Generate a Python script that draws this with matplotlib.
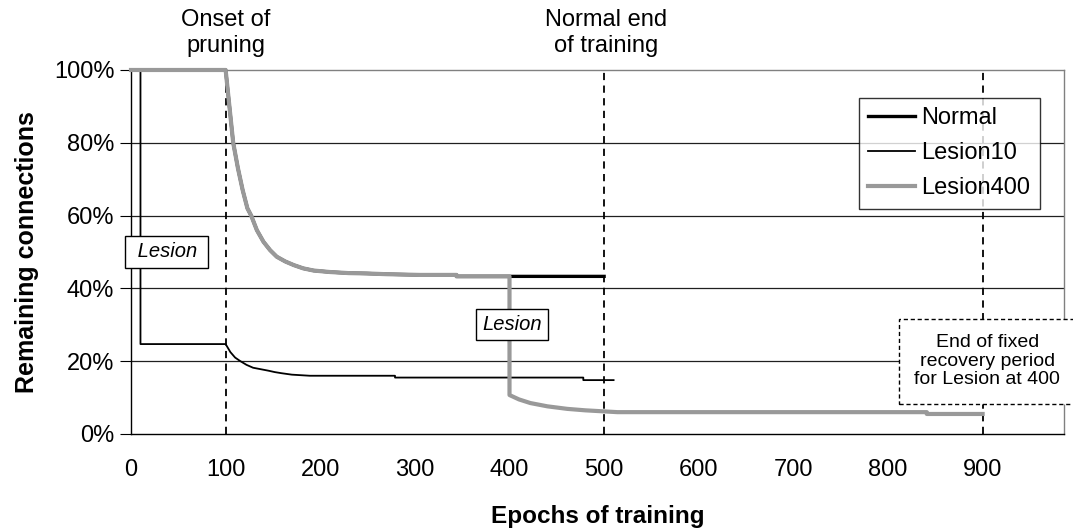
import matplotlib
matplotlib.use("Agg")
import matplotlib.pyplot as plt
from matplotlib.ticker import PercentFormatter, MultipleLocator

plt.rcParams['font.family'] = ['Liberation Sans', 'DejaVu Sans']

# Normal run: pruning starts at epoch 100, training ends at 500
normal_epochs = [0, 100, 104, 108, 113, 118, 123, 127, 133, 140, 147, 154,
                 163, 172, 182, 193, 210, 230, 249, 270, 305, 344, 344, 500]
normal_values = [100, 100, 90, 80, 73, 67, 62, 60, 56, 52.8, 50.5, 48.7,
                 47.4, 46.4, 45.5, 44.9, 44.5, 44.2, 44.1, 43.9, 43.7, 43.7, 43.3, 43.3]

# Lesion at epoch 10
lesion10_epochs = [0, 10, 10, 100, 105, 110, 115, 122, 129, 137, 145, 152,
                   159, 170, 189, 279, 279, 478, 478, 510]
lesion10_values = [100, 100, 24.7, 24.7, 22.5, 21.0, 20.1, 19.0, 18.2, 17.8, 17.4, 17.0,
                   16.7, 16.3, 16.0, 16.0, 15.5, 15.5, 14.8, 14.8]

# Lesion at epoch 400 (same as normal before the lesion)
lesion400_post_epochs = [400, 400, 410, 422, 440, 461, 480, 514, 841, 841, 900]
lesion400_post_values = [43.3, 10.7, 9.5, 8.5, 7.6, 6.9, 6.5, 6.0, 6.0, 5.5, 5.5]
pre = [i for i, e in enumerate(normal_epochs) if e < 400]
lesion400_epochs = [normal_epochs[i] for i in pre] + lesion400_post_epochs
lesion400_values = [normal_values[i] for i in pre] + lesion400_post_values

event_epochs = [100, 500, 900]
x_ticks = [0, 100, 200, 300, 400, 500, 600, 700, 800, 900]

fig = plt.figure(figsize=(10.73, 5.31), dpi=100)
ax = fig.add_axes([0.1221, 0.1827, 0.8695, 0.6855])

ax.set_xlim(0, 986)
ax.set_ylim(0, 100)

for v in [20, 40, 60, 80]:
    ax.axhline(v, color='#202020', lw=0.9, zorder=1)

for e in event_epochs:
    ax.axvline(e, color='black', lw=1.3, ls=(0, (4, 3)), zorder=2)

ax.plot(normal_epochs, normal_values, color='black', lw=2.4, label='Normal',
        zorder=3, clip_on=False)
ax.plot(lesion10_epochs, lesion10_values, color='black', lw=1.3, label='Lesion10',
        zorder=4, clip_on=False)
ax.plot(lesion400_epochs, lesion400_values, color='#999999', lw=3.0, label='Lesion400',
        zorder=5, clip_on=False)

for side in ['left', 'bottom']:
    ax.spines[side].set_color('black')
    ax.spines[side].set_linewidth(1.0)
for side in ['top', 'right']:
    ax.spines[side].set_color('#808080')
    ax.spines[side].set_linewidth(1.0)

ax.set_xticks(x_ticks)
ax.yaxis.set_major_locator(MultipleLocator(20))
ax.yaxis.set_major_formatter(PercentFormatter(100, decimals=0))
ax.tick_params(axis='x', length=0, pad=18, labelsize=17)
ax.tick_params(axis='y', length=8, direction='out', pad=4, labelsize=17)

ax.set_xlabel('Epochs of training', fontsize=17.5, fontweight='bold', labelpad=17)
ax.set_ylabel('Remaining connections', fontsize=18, fontweight='bold', labelpad=11)

box = dict(boxstyle='square,pad=0.3', fc='white', ec='black', lw=1.0)
ax.text(38, 50, ' Lesion ', style='italic', fontsize=14.5, ha='center', va='center',
        bbox=box, zorder=6)
ax.text(403, 30.2, 'Lesion', style='italic', fontsize=14.5, ha='center', va='center',
        bbox=box, zorder=6)
ax.text(905, 20, 'End of fixed\nrecovery period\nfor Lesion at 400', fontsize=14,
        ha='center', va='center', linespacing=1.12, zorder=6,
        bbox=dict(boxstyle='square,pad=0.8', fc='white', ec='black', lw=1.0, ls=(0, (3, 2))))

ax.text(100, 103.6, 'Onset of\npruning', fontsize=17, ha='center', va='bottom',
        linespacing=1.2)
ax.text(502, 103.6, 'Normal end\nof training', fontsize=17, ha='center', va='bottom',
        linespacing=1.2)

leg = ax.legend(loc='upper right', bbox_to_anchor=(0.969, 0.8154),
                bbox_transform=fig.transFigure, borderaxespad=0, fontsize=17,
                frameon=True, fancybox=False, handlelength=2.0, handletextpad=0.25,
                borderpad=0.4, labelspacing=0.55)
leg.get_frame().set_edgecolor('black')
leg.get_frame().set_linewidth(1.0)
leg.set_zorder(7)

fig.savefig('out.png', dpi=100)
